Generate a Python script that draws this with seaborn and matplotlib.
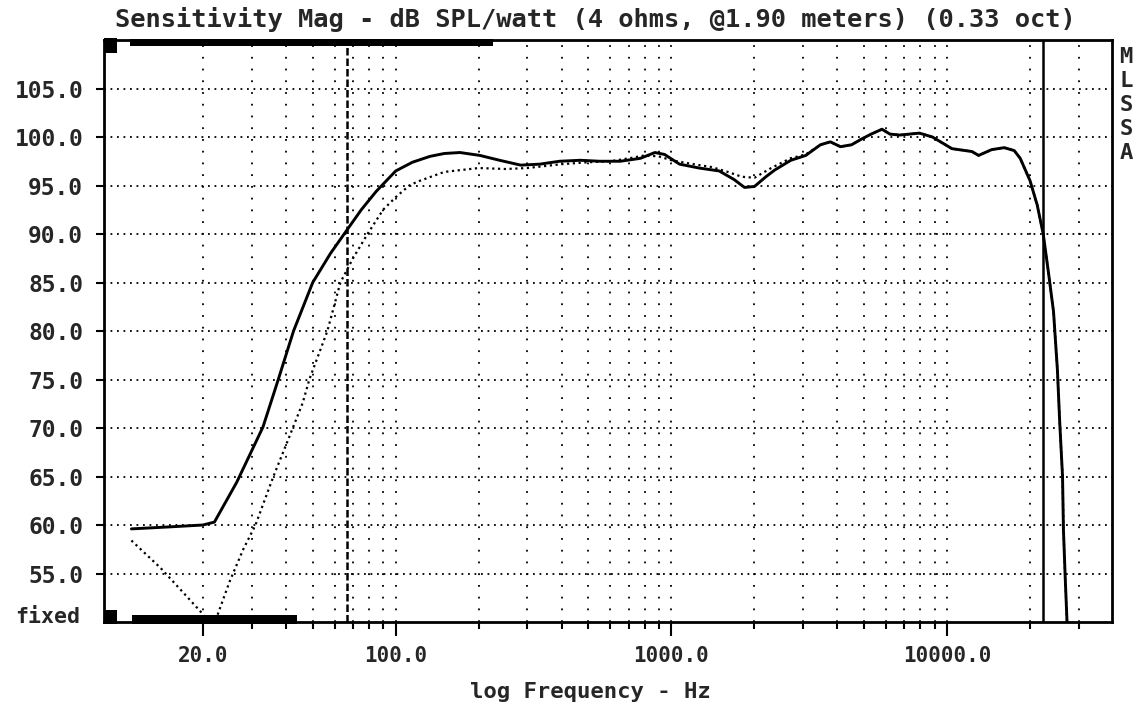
import numpy as np
import pandas as pd
import matplotlib
matplotlib.use("Agg")
import matplotlib.pyplot as plt
import matplotlib.ticker as mticker
from matplotlib.patches import Rectangle
from matplotlib.transforms import blended_transform_factory
import seaborn as sns

# ---------------- data ----------------
solid_freq = [11, 15, 20, 22, 26.5, 33, 37.5, 42.6, 50, 58, 65, 75, 85, 100,
              115, 133, 150, 171, 202, 238, 284, 333, 393, 467, 549, 652, 771,
              871, 944, 1070, 1260, 1490, 1690, 1840, 2000, 2200, 2370, 2710,
              3070, 3470, 3770, 4100, 4500, 4900, 5300, 5800, 6200, 6720, 7930,
              8840, 10400, 12300, 13000, 14500, 16100, 17500, 18400, 19970,
              21200, 22300, 23300, 24300, 25100, 25600, 26200, 26400, 26800,
              27200, 27500]
solid_db = [59.6, 59.8, 60.0, 60.3, 64.4, 70.1, 75.0, 80.0, 85.0, 88.0, 90.0,
            92.5, 94.4, 96.5, 97.4, 98.0, 98.3, 98.4, 98.1, 97.6, 97.1, 97.2,
            97.5, 97.6, 97.5, 97.5, 97.8, 98.4, 98.2, 97.2, 96.8, 96.5, 95.6,
            94.8, 94.9, 95.9, 96.6, 97.6, 98.1, 99.2, 99.5, 99.0, 99.2, 99.8,
            100.3, 100.8, 100.3, 100.2, 100.4, 100.0, 98.8, 98.5, 98.1, 98.7,
            98.9, 98.6, 97.8, 95.5, 93.0, 90.0, 86.0, 82.0, 76.0, 70.5, 65.0,
            59.5, 54.5, 50.0, 48.0]

dot_freq = [11, 14, 17, 20, 21, 22.5, 25, 28, 31, 36, 41, 46, 48.6, 56.5, 63,
            70, 79, 90, 100, 112, 120, 150, 200, 250, 300, 400, 500, 600, 700,
            800, 900, 1000, 1200, 1400, 1600, 1800, 2000, 2300, 2700, 3070,
            3470, 3770, 4100, 4500, 4900, 5300, 5800, 6200, 6720, 7930, 8840,
            10400, 12300, 13000, 14500, 16100, 17500, 18400, 19970, 21200,
            22300, 23300, 24300, 25100, 25600, 26200, 26400, 26800, 27200, 27500]
dot_db = [58.4, 55.6, 53.0, 50.8, 49.8, 50.6, 54.2, 57.5, 60.0, 65.0, 69.0,
          72.6, 75.0, 80.0, 85.0, 87.5, 90.0, 92.5, 93.8, 95.0, 95.4, 96.4,
          96.8, 96.7, 96.8, 97.2, 97.4, 97.5, 97.8, 98.1, 98.0, 97.6, 97.2,
          96.9, 96.4, 95.9, 95.8, 96.8, 97.8, 98.2, 99.2, 99.5, 99.0, 99.2,
          99.8, 100.3, 100.8, 100.3, 100.2, 100.4, 100.0, 98.8, 98.5, 98.1,
          98.7, 98.9, 98.6, 97.8, 95.5, 93.0, 90.0, 86.0, 82.0, 76.0, 70.5,
          65.0, 59.5, 54.5, 50.0, 48.0]

major_xticks = [20, 100, 1000, 10000]
major_xlabels = ["20.0", "100.0", "1000.0", "10000.0"]
minor_xticks = [30, 40, 50, 60, 70, 80, 90, 200, 300, 400, 500, 600, 700, 800,
                900, 2000, 3000, 4000, 5000, 6000, 7000, 8000, 9000, 20000, 30000]
yticks = [55, 60, 65, 70, 75, 80, 85, 90, 95, 100, 105]
cursor_freqs = [66.6, 22200]

title = "Sensitivity Mag - dB SPL/watt (4 ohms, @1.90 meters) (0.33 oct)"
xlabel = "log Frequency - Hz"
side_letters = ["M", "L", "S", "S", "A"]

# ---------------- style ----------------
sns.set_theme(style="white")
plt.rcParams["font.family"] = ["DejaVu Sans Mono", "DejaVu Sans"]
plt.rcParams["font.weight"] = "bold"

fig = plt.figure(figsize=(11.4, 7.05), dpi=100)
ax = fig.add_axes([104 / 1140, 1 - 622 / 705, 1008 / 1140, 582 / 705])
ax.set_facecolor("white")

df_s = pd.DataFrame({"f": solid_freq, "db": solid_db})
df_d = pd.DataFrame({"f": dot_freq, "db": dot_db})

sns.lineplot(data=df_s, x="f", y="db", ax=ax, color="black", lw=2.1,
             sort=False, estimator=None, zorder=5)
sns.lineplot(data=df_d, x="f", y="db", ax=ax, color="black", lw=1.6,
             linestyle=(0, (1, 1.6)), sort=False, estimator=None, zorder=4)

ax.set_xscale("log")
ax.set_xlim(8.75, 39600)
ax.set_ylim(50, 110)

ax.xaxis.set_major_locator(mticker.FixedLocator(major_xticks))
ax.xaxis.set_major_formatter(mticker.FixedFormatter(major_xlabels))
ax.xaxis.set_minor_locator(mticker.FixedLocator(minor_xticks))
ax.xaxis.set_minor_formatter(mticker.NullFormatter())
ax.set_yticks(yticks)
ax.set_yticklabels([f"{v:.1f}" for v in yticks])

ax.grid(False)
ax.xaxis.grid(True, which="both", color="black", lw=1.3, linestyle=(0, (1, 5.5)))
ax.yaxis.grid(True, which="major", color="black", lw=1.3, linestyle=(0, (1, 2.6)))

for f in cursor_freqs[:1]:
    ax.axvline(f, color="black", lw=1.8, linestyle=(0, (3, 1.2)), zorder=3)
for f in cursor_freqs[1:]:
    ax.axvline(f, color="black", lw=1.8, zorder=3)

ax.tick_params(axis="x", which="major", direction="out", length=10, width=1.5,
               pad=7, labelsize=15, color="black", bottom=True)
ax.tick_params(axis="x", which="minor", direction="out", length=5, width=1.5,
               color="black", bottom=True)
ax.tick_params(axis="y", which="major", direction="out", length=6, width=1.5,
               pad=9, labelsize=16.5, color="black", left=True)
for lab in ax.get_xticklabels() + ax.get_yticklabels():
    lab.set_fontweight("bold")

for sp in ax.spines.values():
    sp.set_visible(True)
    sp.set_color("black")
    sp.set_linewidth(2.0)

ax.set_xlabel(xlabel, fontsize=16, fontweight="bold", labelpad=12)
ax.xaxis.label.set_x(486 / 1008)
ax.set_ylabel("")

trans = blended_transform_factory(ax.transAxes, ax.transData)
ax.text(-0.024, 50.5, "fixed", transform=trans, ha="right", va="center",
        fontsize=15.5, fontweight="bold")

deco = [
    (0.0, 0.978, 0.0129, 0.025),
    (0.0258, 0.989, 0.360, 0.013),
    (0.0, -0.003, 0.0129, 0.024),
    (0.0282, -0.003, 0.1633, 0.015),
]
for (x0, y0, w, h) in deco:
    ax.add_patch(Rectangle((x0, y0), w, h, transform=ax.transAxes,
                           facecolor="black", edgecolor="none", clip_on=False,
                           zorder=6))

fig.text(595 / 1140, 1 - 20 / 705, title, ha="center", va="center",
         fontsize=18.3, fontweight="bold")

for i, ch in enumerate(side_letters):
    fig.text(1126 / 1140, 1 - (57 + 24 * i) / 705, ch, ha="center", va="center",
             fontsize=16, fontweight="bold")

fig.savefig("out.png", dpi=100, facecolor="white")
